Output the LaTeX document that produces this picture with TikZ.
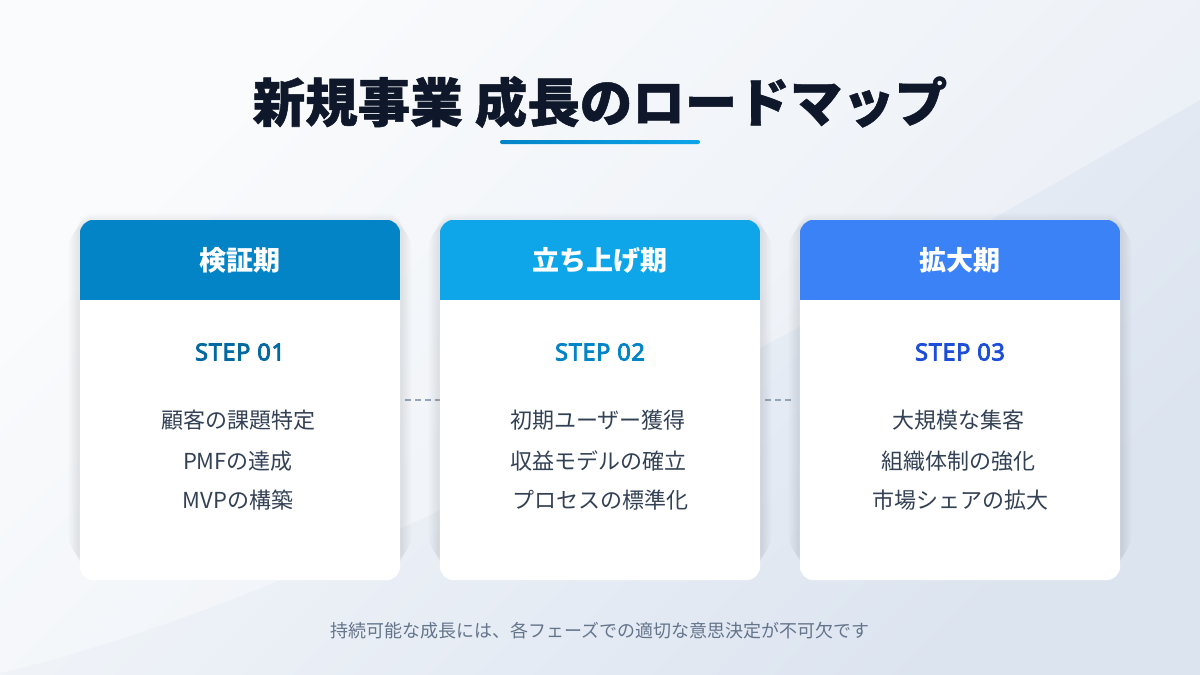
\documentclass[tikz,border=0pt]{standalone}
\usepackage{fontspec}
\setmainfont{Noto Sans CJK JP}
\definecolor{bgA}{HTML}{F8FAFC}
\definecolor{bgC}{HTML}{DCE4F0}
\definecolor{titlec}{HTML}{0F172A}
\definecolor{hA}{HTML}{0284C7}
\definecolor{hB}{HTML}{0EA5E9}
\definecolor{hC}{HTML}{3B82F6}
\definecolor{sA}{HTML}{0369A1}
\definecolor{sB}{HTML}{0284C7}
\definecolor{sC}{HTML}{1D4ED8}
\definecolor{itemc}{HTML}{334155}
\definecolor{footc}{HTML}{64748B}
\definecolor{dashc}{HTML}{94A3B8}
\definecolor{shadowc}{HTML}{334155}
\newfontfamily\stepfont{Noto Sans}[LetterSpace=3, FakeBold=3.5]
\newfontfamily\titlefont{Noto Sans CJK JP}[BoldFeatures={FakeBold=1}]
\begin{document}
\begin{tikzpicture}[x=1pt,y=-1pt,
  card/.style={rectangle, minimum width=320pt, minimum height=360pt, inner sep=0pt},
  headtext/.style={text=white, font=\fontsize{27}{32}\selectfont\bfseries},
  steptext/.style={font=\fontsize{23.5}{26}\selectfont\stepfont},
  itemtext/.style={text=itemc, font=\fontsize{22}{26}\selectfont, align=center},
  connector/.style={draw=dashc, line width=2pt, dash pattern=on 6pt off 4pt}
]
\useasboundingbox (0,0) rectangle (1200,675);
\shade[top color=bgA, bottom color=bgC, shading angle=45] (0,0) rectangle (1200,675);
\fill[white, opacity=0.35] (0,0) -- (1200,0) -- (1200,100) .. controls (800,330) and (350,590) .. (0,673) -- cycle;

% title
\node[text=titlec, font=\fontsize{52.5}{60}\selectfont\titlefont\bfseries] (title) at (600,102) {新規事業 成長のロードマップ};
\shade[left color=hA, right color=hB, rounded corners=2pt] (500,140) rectangle (700,144);

% cards (positions)
\node[card] (c1) at (240,400) {};
\node[card] (c2) at (600,400) {};
\node[card] (c3) at (960,400) {};

% connectors
\draw[connector] ([xshift=5pt]c1.east) -- (c2.west);
\draw[connector] ([xshift=5pt]c2.east) -- ([xshift=-5pt]c3.west);

\foreach \c/\hc in {c1/hA, c2/hB, c3/hC}{
  \foreach \i in {1,...,12}{
    \fill[shadowc, opacity=0.007, rounded corners=14pt+\i pt]
      ([shift={(-\i pt,-\i pt+8pt)}]\c.north west) rectangle ([shift={(\i pt,\i pt+8pt)}]\c.south east);
  }
  \fill[white, rounded corners=14pt] (\c.north west) rectangle (\c.south east);
  \begin{scope}
    \clip[rounded corners=14pt] (\c.north west) rectangle (\c.south east);
    \fill[\hc] (\c.north west) rectangle ([yshift=-80pt]\c.north east);
  \end{scope}
}

\node[headtext] (h1) at (240,260) {検証期};
\node[headtext] (h2) at (600,260) {立ち上げ期};
\node[headtext] (h3) at (960,260) {拡大期};

\node[steptext, text=sA] (s1) at (240,352) {STEP 01};
\node[steptext, text=sB] (s2) at (600,352) {STEP 02};
\node[steptext, text=sC] (s3) at (960,352) {STEP 03};

\node[itemtext] (a1) at (238,420) {顧客の課題特定};
\node[itemtext] (a2) at (238,461) {PMFの達成};
\node[itemtext] (a3) at (238,500) {MVPの構築};
\node[itemtext] (b1) at (598,420) {初期ユーザー獲得};
\node[itemtext] (b2) at (598,461) {収益モデルの確立};
\node[itemtext] (b3) at (600,500) {プロセスの標準化};
\node[itemtext] (d1) at (958,420) {大規模な集客};
\node[itemtext] (d2) at (958,461) {組織体制の強化};
\node[itemtext] (d3) at (960,500) {市場シェアの拡大};

% footer
\node[text=footc, font=\fontsize{18}{22}\selectfont] (foot) at (600,631) {持続可能な成長には、各フェーズでの適切な意思決定が不可欠です};
\end{tikzpicture}
\end{document}
